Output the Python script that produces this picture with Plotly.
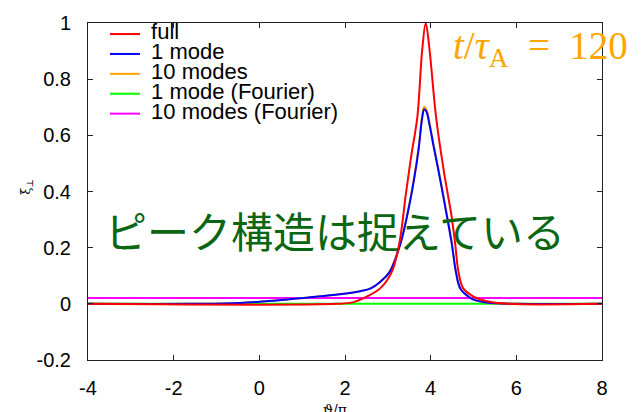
import plotly.graph_objects as go

# ---- data ----
theta_full = [-4, 1.8, 2.2, 2.51, 2.82, 3.09, 3.27, 3.42, 3.55, 3.69, 3.80, 3.885,
              3.97, 4.125, 4.30, 4.40, 4.48, 4.57, 4.65, 4.76, 5.0, 5.31, 5.8, 8]
xi_full = [0, 0, 0.006, 0.026, 0.055, 0.113, 0.217, 0.39, 0.53, 0.667, 0.90, 1.0,
           0.91, 0.667, 0.48, 0.39, 0.32, 0.217, 0.113, 0.055, 0.026, 0.009, 0.0, 0]

theta_1mode = [-4, -1.5, -0.45, 0.33, 1.1, 1.88, 2.35, 2.6, 2.82, 3.04, 3.30, 3.50, 3.62,
               3.72, 3.80, 3.85, 3.90, 3.97, 4.08, 4.20, 4.31, 4.49, 4.59, 4.69, 4.88,
               5.0, 5.3, 6.0, 8]
xi_1mode = [0, 0, 0.003, 0.011, 0.022, 0.034, 0.045, 0.055, 0.078, 0.113, 0.217, 0.35,
            0.45, 0.552, 0.66, 0.693, 0.685, 0.64, 0.552, 0.46, 0.37, 0.217, 0.113,
            0.055, 0.026, 0.015, 0.005, 0.0, 0]

theta_10modes = [-4, -1.5, -0.45, 0.33, 1.1, 1.88, 2.35, 2.6, 2.82, 3.04, 3.30, 3.50, 3.62,
                 3.72, 3.80, 3.85, 3.90, 3.97, 4.08, 4.20, 4.31, 4.49, 4.59, 4.69, 4.88,
                 5.0, 5.3, 6.0, 8]
xi_10modes = [0, 0, 0.003, 0.011, 0.022, 0.034, 0.045, 0.055, 0.078, 0.114, 0.219, 0.354,
              0.456, 0.56, 0.668, 0.702, 0.693, 0.648, 0.558, 0.465, 0.373, 0.219, 0.114,
              0.056, 0.026, 0.015, 0.005, 0.0, 0]

theta_fourier = [-4, 8]
xi_1mode_fourier = [0.0, 0.0]
xi_10modes_fourier = [0.021, 0.021]

x_tickvals = [-4, -2, 0, 2, 4, 6, 8]
x_ticktext = ["-4", "-2", "0", "2", "4", "6", "8"]
y_tickvals = [-0.2, 0, 0.2, 0.4, 0.6, 0.8, 1]
y_ticktext = ["-0.2", "0", "0.2", "0.4", "0.6", "0.8", "1"]

names = ["full", "1 mode", "10 modes", "1 mode (Fourier)", "10 modes (Fourier)"]
colors = ["#ff0000", "#0000ff", "#ffa500", "#00ff00", "#ff00ff"]

def lbl(s):
    return '<span style="font-size:22px">&nbsp;' + s + '</span>'

fig = go.Figure()
# draw order: green, magenta, orange, blue, red (red on top); legend order via legendrank
fig.add_trace(go.Scatter(x=theta_fourier, y=xi_1mode_fourier, mode="lines",
                         name=lbl(names[3]), line=dict(color=colors[3], width=2), legendrank=4))
fig.add_trace(go.Scatter(x=theta_fourier, y=xi_10modes_fourier, mode="lines",
                         name=lbl(names[4]), line=dict(color=colors[4], width=2), legendrank=5))
fig.add_trace(go.Scatter(x=theta_10modes, y=xi_10modes, mode="lines", line_shape="spline",
                         name=lbl(names[2]), line=dict(color=colors[2], width=2), legendrank=3))
fig.add_trace(go.Scatter(x=theta_1mode, y=xi_1mode, mode="lines", line_shape="spline",
                         name=lbl(names[1]), line=dict(color=colors[1], width=2), legendrank=2))
fig.add_trace(go.Scatter(x=theta_full, y=xi_full, mode="lines", line_shape="spline",
                         name=lbl(names[0]), line=dict(color=colors[0], width=2), legendrank=1))

axis_common = dict(showline=True, linecolor="#222", linewidth=1, mirror="ticks",
                   ticks="inside", ticklen=5, tickcolor="#222", showgrid=False, zeroline=False,
                   tickfont=dict(family="Liberation Sans, Arial, sans-serif", size=20, color="black"))

fig.update_layout(
    width=642, height=412,
    margin=dict(l=88, r=40, t=14, b=52),
    paper_bgcolor="white", plot_bgcolor="white",
    showlegend=True,
    legend=dict(x=(105 - 88) / 514, y=1 + 4 / 346, xanchor="left", yanchor="top",
                bgcolor="rgba(0,0,0,0)", borderwidth=0,
                font=dict(family="Liberation Sans, Arial, sans-serif", size=13, color="black"),
                traceorder="normal"),
    xaxis=dict(range=[-4, 8], tickvals=x_tickvals, ticktext=x_ticktext,
               ticklabelstandoff=10, **axis_common),
    yaxis=dict(range=[-0.2, 1], tickvals=y_tickvals, ticktext=y_ticktext,
               ticklabelstandoff=12, **axis_common),
)

fig.add_annotation(text="ピーク構造は捉えている", xref="paper", yref="paper",
                   x=(335 - 88) / 514, y=(360 - 226) / 346, xanchor="center", yanchor="middle",
                   showarrow=False,
                   font=dict(family="Noto Sans CJK JP", size=42, color="#0a6610"))

fig.add_annotation(text="<i>t</i>/<i>τ</i><sub>A</sub>  =  120", xref="paper", yref="paper",
                   x=(630 - 88) / 514, y=(360 - 40) / 346, xanchor="right", yanchor="middle",
                   showarrow=False,
                   font=dict(family="Liberation Serif, DejaVu Serif, serif", size=39, color="#ffa500"))

fig.add_annotation(text="ξ<sub>⊥</sub>", xref="paper", yref="paper",
                   x=(27 - 88) / 514, y=(360 - 182) / 346, xanchor="center", yanchor="middle",
                   textangle=-90, showarrow=False,
                   font=dict(family="DejaVu Serif, serif", size=13, color="black"))

fig.add_annotation(text="ϑ/π", xref="paper", yref="paper",
                   x=(335 - 88) / 514, y=(360 - 401) / 346, xanchor="center", yanchor="top",
                   showarrow=False,
                   font=dict(family="DejaVu Serif, serif", size=14, color="black"))

fig.write_html("out.html")
